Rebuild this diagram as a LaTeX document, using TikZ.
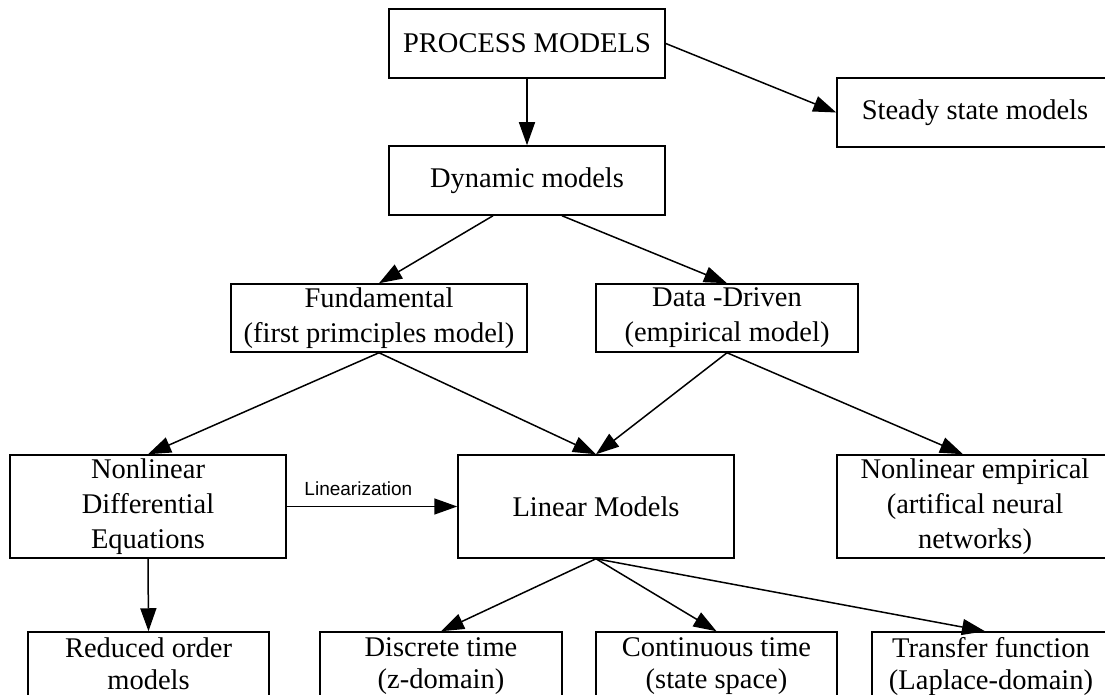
\documentclass[tikz,border=0pt]{standalone}
\usepackage{fontspec}
\setmainfont{Liberation Serif}
\newfontfamily\labelsans{Liberation Sans}
\usetikzlibrary{arrows.meta}
\tikzset{
  box/.style={draw, line width=1.5pt, rectangle, inner sep=0pt, align=center,
    font=\fontsize{28.5}{35}\selectfont},
  onel/.style={box, minimum width=276pt, minimum height=69pt},
  tall/.style={box, minimum width=276pt, minimum height=103pt},
  lowbox/.style={box, minimum height=69pt, font=\fontsize{28.5}{32}\selectfont},
  edge/.style={line width=1.5pt, -{Triangle[length=23pt,width=16pt]}},
  edgelabel/.style={font=\labelsans\fontsize{19}{22}\selectfont, inner sep=0pt}
}
\begin{document}
\begin{tikzpicture}[x=1pt,y=-1pt]
\useasboundingbox (0,0) rectangle (1105,695);
\clip (0,0) rectangle (1105,695);
\fill[white] (0,0) rectangle (1105,695);

\node[onel] (pm) at (527,43.5) {PROCESS MODELS};
\node[onel] (ss) at (975,112.5) {Steady state models};
\node[onel] (dyn) at (527,180.5) {Dynamic models};
\node[box, minimum width=296pt, minimum height=68pt] (fund) at (379,318) {Fundamental\\(first primciples model)};
\node[box, minimum width=262pt, minimum height=68pt] (data) at (727,318) {Data -Driven\\(empirical model)};
\node[tall] (nde) at (148,506.5) {Nonlinear\\Differential\\Equations};
\node[tall] (lin) at (596,506.5) {Linear Models};
\node[tall] (ne) at (975,506.5) {Nonlinear empirical\\(artifical neural\\networks)};
\node[lowbox, minimum width=241pt] (red) at (148.5,666.5) {Reduced order\\models\vphantom{()}};
\node[lowbox, minimum width=242pt] (disc) at (441,666.5) {Discrete time\\(z-domain)};
\node[lowbox, minimum width=241pt] (cont) at (716.5,666.5) {Continuous time\\(state space)};
\node[lowbox, minimum width=238pt] (tf) at (991,666.5) {Transfer function\\(Laplace-domain)};

\draw[edge] (pm.east) -- (ss.west);
\draw[edge] (pm.south) -- (dyn.north);
\draw[edge] ([xshift=-34pt]dyn.south) -- (fund.north);
\draw[edge] ([xshift=35pt]dyn.south) -- (data.north);
\draw[edge] (fund.south) -- (nde.north);
\draw[edge] (fund.south) -- (lin.north);
\draw[edge] (data.south) -- (lin.north);
\draw[edge] (data.south) -- ([xshift=-12pt]ne.north);
\draw[edge] (nde.east) -- node[edgelabel, pos=0.42, yshift=18pt] (linlab) {Linearization} (lin.west);
\draw[edge] (nde.south) -- (red.north);
\draw[edge] (lin.south) -- (disc.north);
\draw[edge] (lin.south) -- (cont.north);
\draw[edge] (lin.south) -- ([xshift=-6pt]tf.north);
\end{tikzpicture}
\end{document}
